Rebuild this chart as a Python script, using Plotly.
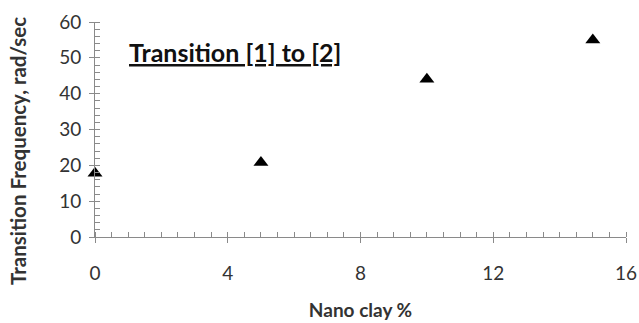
import plotly.graph_objects as go

nano_clay = [0, 5, 10, 15]
transition_freq = [17.8, 20.8, 44, 55]
x_ticks = [0, 4, 8, 12, 16]
y_ticks = [0, 10, 20, 30, 40, 50, 60]

axis_col = "#8a8a8a"
txt_col = "#333333"
font = "Lato"

fig = go.Figure()
fig.add_trace(go.Scatter(x=nano_clay, y=transition_freq, mode="markers",
                         marker=dict(symbol="triangle-up", size=13, color="black"),
                         cliponaxis=False, showlegend=False))
# invisible trace for overlay axes
fig.add_trace(go.Scatter(x=[0], y=[0], xaxis="x2", yaxis="y2", mode="markers",
                         marker=dict(opacity=0), showlegend=False, hoverinfo="skip"))

fig.update_layout(
    width=639, height=323,
    margin=dict(l=95, r=13, t=22, b=86),
    plot_bgcolor="white", paper_bgcolor="white",
    font=dict(family=font, color=txt_col, size=16),
    xaxis=dict(range=[0, 16], tickvals=x_ticks, showgrid=False, zeroline=False,
               automargin=False,
               showline=True, linecolor=axis_col, linewidth=1,
               ticks="outside", ticklen=5, tickcolor=axis_col,
               minor=dict(dtick=0.5, ticks="inside", ticklen=5, tickcolor=axis_col),
               ticklabelstandoff=14, tickfont=dict(size=19, color=txt_col),
               title=dict(text="<b>Nano clay %</b>", font=dict(size=19, color=txt_col), standoff=20)),
    yaxis=dict(range=[0, 60], tickvals=y_ticks, showgrid=False, zeroline=False,
               automargin=False,
               showline=True, linecolor=axis_col, linewidth=1,
               ticks="outside", ticklen=5, tickcolor=axis_col,
               minor=dict(dtick=2, ticks="inside", ticklen=5, tickcolor=axis_col),
               ticklabelstandoff=4, tickfont=dict(size=19, color=txt_col)),
    xaxis2=dict(range=[0, 16], tickvals=x_ticks, overlaying="x", side="bottom",
                automargin=False,
                showgrid=False, zeroline=False, showticklabels=False,
                ticks="inside", ticklen=5, tickcolor=axis_col, showline=False),
    yaxis2=dict(range=[0, 60], tickvals=y_ticks, overlaying="y", side="left",
                automargin=False,
                showgrid=False, zeroline=False, showticklabels=False,
                ticks="inside", ticklen=5, tickcolor=axis_col, showline=False),
    annotations=[
        dict(text="<b><u>Transition [1] to [2]</u></b>", x=0.95, y=51.5,
             xref="x", yref="y", xanchor="left", yanchor="middle",
             showarrow=False, font=dict(size=25, color="#111111")),
        dict(text="<b>Transition Frequency, rad/sec</b>", textangle=-90,
             x=-0.145, y=0.4, xref="paper", yref="paper",
             xanchor="center", yanchor="middle", showarrow=False,
             font=dict(size=20.5, color=txt_col)),
    ],
)

fig.write_html("out.html", config={"displayModeBar": False},
               post_script="document.body.style.margin='0';document.body.style.overflow='hidden';")
